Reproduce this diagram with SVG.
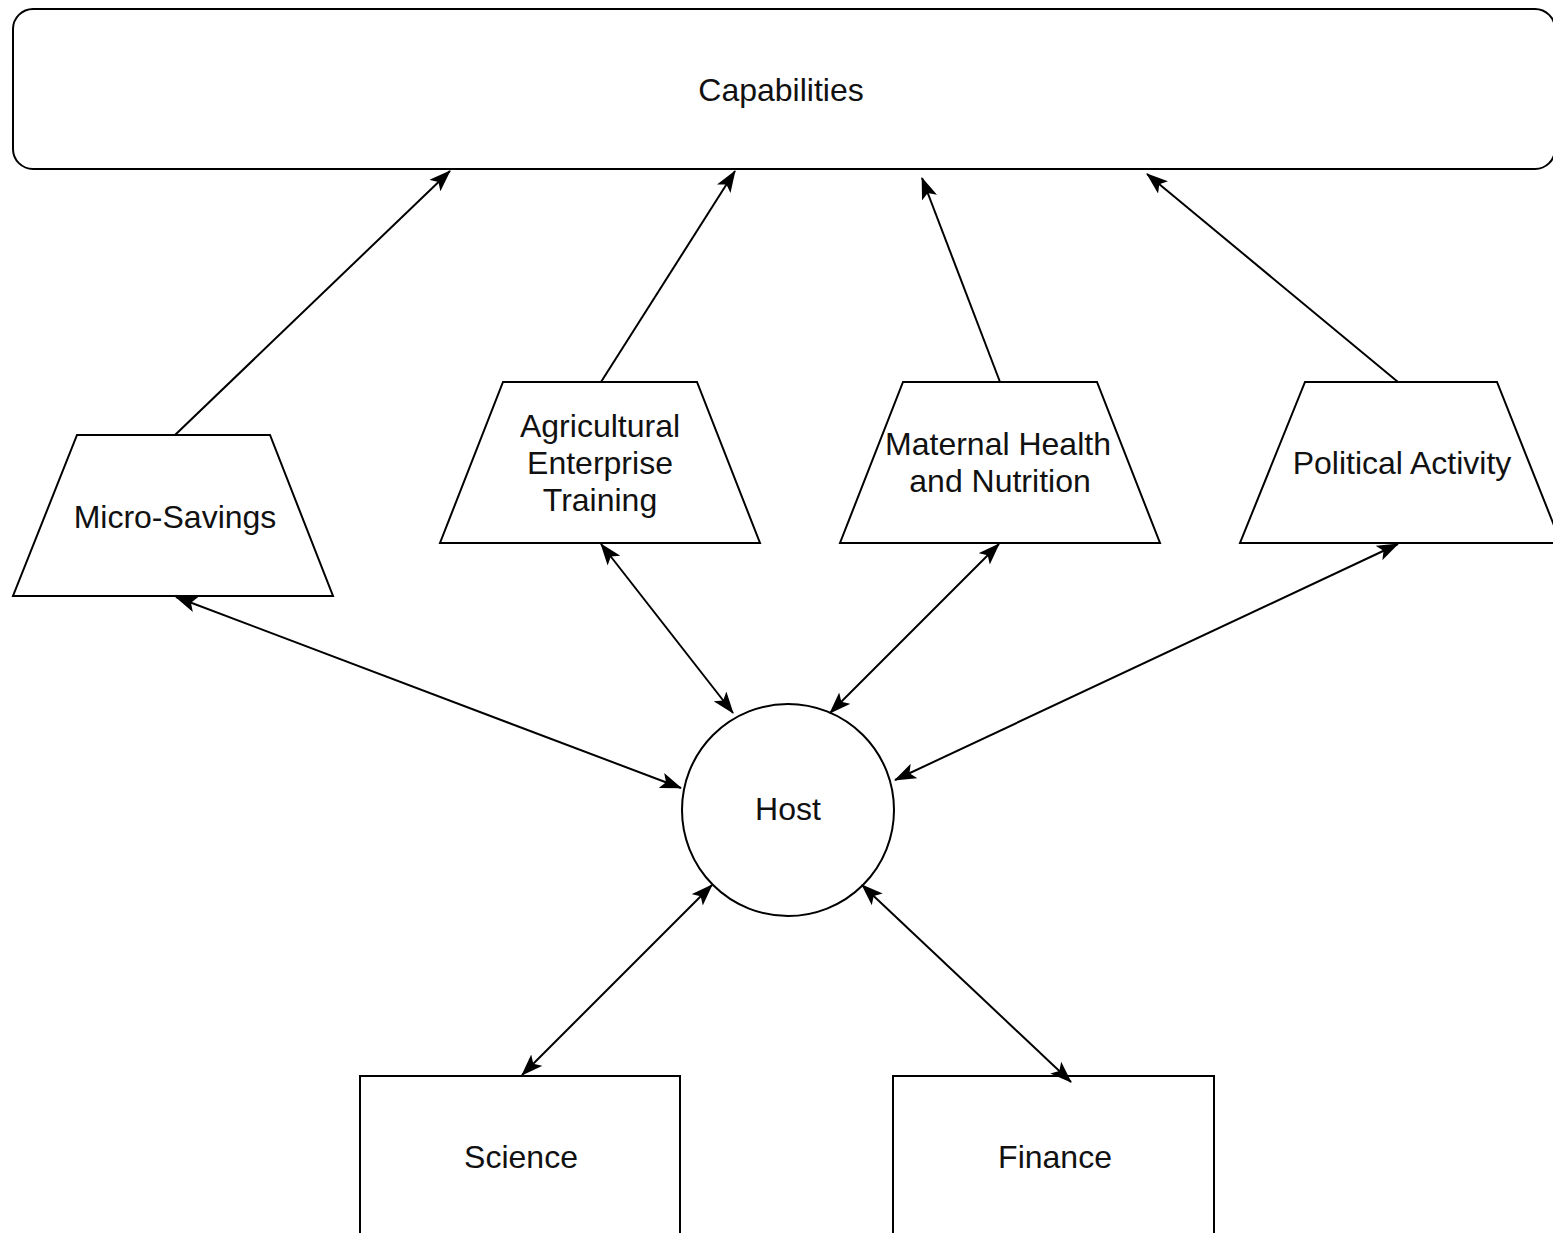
<svg xmlns="http://www.w3.org/2000/svg" width="1553" height="1233" viewBox="0 0 1553 1233">
<style>
.s{fill:#fff;stroke:#000;stroke-width:2}
.t{font-family:"Liberation Sans",Arial,sans-serif;font-size:32px;fill:#111;text-anchor:middle;dominant-baseline:central}
.c{fill:none;stroke:#000;stroke-width:2}
</style>
<defs>
<marker id="a" markerUnits="userSpaceOnUse" markerWidth="22" markerHeight="16" viewBox="0 0 22 16" refX="21" refY="8" orient="auto-start-reverse">
<path d="M0,0 L22,8 L0,16 L5,8 Z" fill="#000"/>
</marker>
</defs>
<rect width="1553" height="1233" fill="#fff"/>
<g id="capabilities"><rect class="s" x="13" y="9" width="1542" height="160" rx="20"/><text class="t" x="781" y="90">Capabilities</text></g>
<g id="micro-savings"><polygon class="s" points="77,435 270,435 333,596 13,596"/><text class="t" x="175" y="517">Micro-Savings</text></g>
<g id="agricultural"><polygon class="s" points="503,382 697,382 760,543 440,543"/><text class="t" x="600" y="426">Agricultural</text><text class="t" x="600" y="463">Enterprise</text><text class="t" x="600" y="500">Training</text></g>
<g id="maternal"><polygon class="s" points="903,382 1097,382 1160,543 840,543"/><text class="t" x="998" y="444">Maternal Health</text><text class="t" x="1000" y="481">and Nutrition</text></g>
<g id="political"><polygon class="s" points="1305,382 1497,382 1561,543 1240,543"/><text class="t" x="1402" y="463">Political Activity</text></g>
<g id="host"><circle class="s" cx="788" cy="810" r="106"/><text class="t" x="788" y="809">Host</text></g>
<g id="science"><rect class="s" x="360" y="1076" width="320" height="170"/><text class="t" x="521" y="1157">Science</text></g>
<g id="finance"><rect class="s" x="893" y="1076" width="321" height="170"/><text class="t" x="1055" y="1157">Finance</text></g>
<g id="connectors">
<line class="c" x1="175" y1="435" x2="450" y2="171" marker-end="url(#a)"/>
<line class="c" x1="601" y1="382" x2="735" y2="171" marker-end="url(#a)"/>
<line class="c" x1="1000" y1="382" x2="922" y2="178" marker-end="url(#a)"/>
<line class="c" x1="1398" y1="382" x2="1147" y2="174" marker-end="url(#a)"/>
<line class="c" x1="176" y1="597" x2="681" y2="788" marker-start="url(#a)" marker-end="url(#a)"/>
<line class="c" x1="601" y1="544" x2="733" y2="713" marker-start="url(#a)" marker-end="url(#a)"/>
<line class="c" x1="999" y1="544" x2="830" y2="713" marker-start="url(#a)" marker-end="url(#a)"/>
<line class="c" x1="1398" y1="544" x2="895" y2="780" marker-start="url(#a)" marker-end="url(#a)"/>
<line class="c" x1="712" y1="885" x2="522" y2="1075" marker-start="url(#a)" marker-end="url(#a)"/>
<line class="c" x1="862" y1="885" x2="1071" y2="1082" marker-start="url(#a)" marker-end="url(#a)"/>
</g>
</svg>
